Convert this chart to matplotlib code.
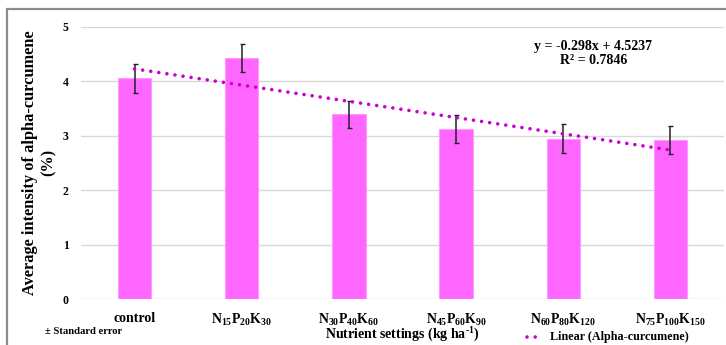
import numpy as np
import matplotlib
matplotlib.use("Agg")
import matplotlib.pyplot as plt
from matplotlib.lines import Line2D
from matplotlib.patches import Rectangle

categories = ["control",
              "N$_{15}$P$_{20}$K$_{30}$",
              "N$_{30}$P$_{40}$K$_{60}$",
              "N$_{45}$P$_{60}$K$_{90}$",
              "N$_{60}$P$_{80}$K$_{120}$",
              "N$_{75}$P$_{100}$K$_{150}$"]
values = [4.05, 4.43, 3.39, 3.12, 2.94, 2.92]
errors = [0.265, 0.26, 0.25, 0.255, 0.265, 0.26]
trend_slope = -0.298
trend_intercept = 4.5237
r_squared = 0.7846
yticks = [0, 1, 2, 3, 4, 5]

plt.rcParams['font.family'] = ['Liberation Serif', 'DejaVu Serif']
plt.rcParams['font.weight'] = 'bold'
plt.rcParams['mathtext.fontset'] = 'custom'
plt.rcParams['mathtext.rm'] = 'Liberation Serif:bold'
plt.rcParams['mathtext.it'] = 'Liberation Serif:bold'
plt.rcParams['mathtext.bf'] = 'Liberation Serif:bold'
plt.rcParams['mathtext.default'] = 'rm'

fig = plt.figure(figsize=(7.26, 3.45), dpi=100)
ax = fig.add_axes([81/726, 1-299/345, (724-81)/726, (299-26.7)/345])

x = np.arange(1, len(values)+1)
ax.bar(x, values, width=0.31, color='#FF66FF', edgecolor='#FF99FF', linewidth=0.8, zorder=2)
ax.errorbar(x, values, yerr=errors, fmt='none', ecolor='#222222', elinewidth=1.1,
            capsize=1.8, capthick=1.0, zorder=4)

xt_line = np.linspace(x[0], x[-1], 50)
ax.plot(xt_line, trend_slope*xt_line + trend_intercept, color='#CC00CC', lw=2.6,
        linestyle=(0, (0.01, 2.25)), dash_capstyle='round', zorder=5)

ax.set_xlim(0.5, len(values)+0.5)
ax.set_ylim(0, 5)
ax.set_yticks(yticks)
ax.set_yticklabels([str(t) for t in yticks], fontsize=8.5, fontweight='bold')
ax.set_xticks(x)
ax.set_xticklabels(categories, fontsize=10, fontweight='bold')
ax.tick_params(axis='both', length=0)
ax.tick_params(axis='y', pad=9)
ax.tick_params(axis='x', pad=9)
ax.yaxis.grid(True, color='#D9D9D9', linewidth=1.0, zorder=0)
ax.set_axisbelow(True)
for s in ax.spines.values():
    s.set_visible(False)

ax.set_ylabel("Average intensity of alpha-curcumene\n(%)", fontsize=11.8, fontweight='bold',
              labelpad=4, linespacing=1.25)
ax.set_xlabel("Nutrient settings (kg ha$^{\\text{-}1}$)", fontsize=10, fontweight='bold', labelpad=-1)

ax.text(0.797, 0.9, f"y = {trend_slope}x + {trend_intercept}\nR² = {r_squared}",
        transform=ax.transAxes, ha='center', va='center', fontsize=10, fontweight='bold',
        linespacing=1.1)

fig.text(45/726, 1-332/345, "± Standard error", fontsize=7.7, fontweight='bold', va='center')
fig.add_artist(Line2D([527/726, 536/726], [1-337/345, 1-337/345], color='#CC00CC', lw=2.6,
                      linestyle=(0, (0.01, 2.25)), dash_capstyle='round'))
fig.text(550/726, 1-337/345, "Linear (Alpha-curcumene)", fontsize=8.7, fontweight='bold', va='center')

fig.add_artist(Rectangle((7/726, -0.1), 1.2, 1-9/345+0.1, transform=fig.transFigure,
                         fill=False, edgecolor='#8C8C8C', linewidth=1.6))

fig.savefig("out.png", dpi=100)
